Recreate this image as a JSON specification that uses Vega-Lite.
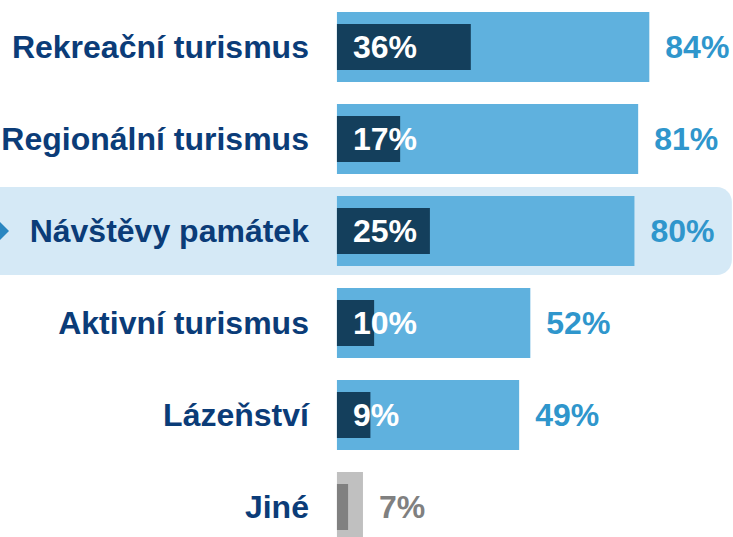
{
  "$schema": "https://vega.github.io/schema/vega-lite/v6.json",
  "width": 733,
  "height": 537,
  "padding": 0,
  "autosize": {"type": "none"},
  "background": "white",
  "config": {"view": {"stroke": null}, "text": {"font": "Liberation Sans", "fontWeight": "bold", "fontSize": 32}},
  "data": {"values": [
    {"cat": "Rekreační turismus", "outer": 0.84, "inner": 0.36, "group": "main"},
    {"cat": "Regionální turismus", "outer": 0.81, "inner": 0.17, "group": "main"},
    {"cat": "Návštěvy památek", "outer": 0.80, "inner": 0.25, "group": "main"},
    {"cat": "Aktivní turismus", "outer": 0.52, "inner": 0.10, "group": "main"},
    {"cat": "Lázeňství", "outer": 0.49, "inner": 0.09, "group": "main"},
    {"cat": "Jiné", "outer": 0.07, "inner": 0.03, "group": "other"}
  ]},
  "encoding": {
    "y": {"field": "cat", "type": "nominal", "sort": null, "axis": null,
      "scale": {"domain": ["Rekreační turismus", "Regionální turismus", "Návštěvy památek", "Aktivní turismus", "Lázeňství", "Jiné"],
        "range": [1, 553], "paddingInner": 0.239, "paddingOuter": 0.1195}}
  },
  "layer": [
    {
      "transform": [{"filter": "datum.cat === 'Návštěvy památek'"}],
      "mark": {"type": "bar", "color": "#d5e9f6", "height": {"band": 1.257}, "cornerRadiusTopRight": 15, "cornerRadiusBottomRight": 15, "clip": true},
      "encoding": {
        "x": {"datum": -0.95, "type": "quantitative", "scale": {"domain": [-0.906, 1.065], "nice": false, "zero": false}, "axis": null},
        "x2": {"datum": 1.062}
      }
    },
    {
      "transform": [{"filter": "datum.cat === 'Návštěvy památek'"}],
      "mark": {"type": "point", "shape": "diamond", "size": 324, "filled": true, "color": "#2a86c0", "opacity": 1, "clip": true},
      "encoding": {
        "x": {"datum": -0.906, "type": "quantitative"}
      }
    },
    {
      "mark": {"type": "bar", "height": {"band": 1}},
      "encoding": {
        "x": {"field": "outer", "type": "quantitative"},
        "color": {"field": "group", "type": "nominal", "legend": null,
          "scale": {"domain": ["main", "other"], "range": ["#5fb1de", "#c0c0c0"]}}
      }
    },
    {
      "mark": {"type": "bar", "height": {"band": 0.657}},
      "encoding": {
        "x": {"field": "inner", "type": "quantitative"},
        "fill": {"field": "group", "type": "nominal", "legend": null,
          "scale": {"domain": ["main", "other"], "range": ["#143f5c", "#808080"]}}
      }
    },
    {
      "transform": [{"filter": "datum.group === 'main'"}],
      "mark": {"type": "text", "align": "left", "baseline": "middle", "dx": 16, "dy": 1, "color": "white"},
      "encoding": {
        "x": {"datum": 0, "type": "quantitative"},
        "text": {"field": "inner", "type": "quantitative", "format": ".0%"}
      }
    },
    {
      "mark": {"type": "text", "align": "left", "baseline": "middle", "dx": 16, "dy": 1},
      "encoding": {
        "x": {"field": "outer", "type": "quantitative"},
        "text": {"field": "outer", "type": "quantitative", "format": ".0%"},
        "color": {"field": "group", "type": "nominal", "legend": null,
          "scale": {"domain": ["main", "other"], "range": ["#2f96cc", "#808080"]}}
      }
    },
    {
      "mark": {"type": "text", "align": "right", "baseline": "middle", "dx": -28, "dy": 1, "color": "#0b3c78"},
      "encoding": {
        "x": {"datum": 0, "type": "quantitative"},
        "text": {"field": "cat", "type": "nominal"}
      }
    }
  ],
  "resolve": {"scale": {"color": "independent", "fill": "independent"}}
}
